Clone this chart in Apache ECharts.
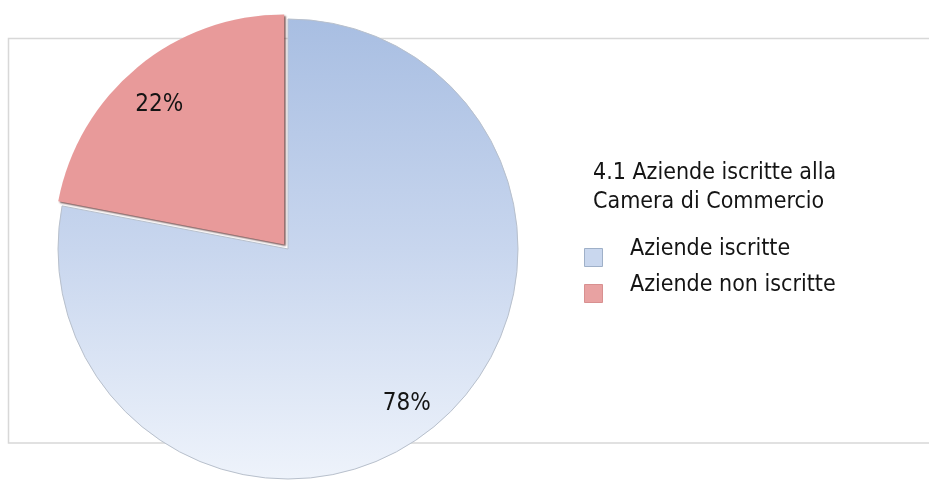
<!DOCTYPE html>
<html>
<head>
<meta charset="utf-8">
<style>
  html, body { margin: 0; padding: 0; background: #ffffff; }
  #chart { width: 929px; height: 483px; }
</style>
<script src="https://cdn.jsdelivr.net/npm/echarts@6/dist/echarts.min.js"></script>
</head>
<body>
<div id="chart"></div>
<script>
// Quota di aziende iscritte / non iscritte alla Camera di Commercio (%)
const categories = ['Aziende iscritte', 'Aziende non iscritte'];
const values = [78, 22];
const chartTitle = '4.1 Aziende iscritte alla\nCamera di Commercio';

const FONT = "'DejaVu Sans Condensed', 'Liberation Sans Narrow', 'Arial Narrow', sans-serif";
const TEXT_COLOR = '#141414';
const CENTER = [288, 249];
const RADIUS = 230;

const blueFill = {
  type: 'linear', x: 0, y: 0, x2: 0, y2: 1,
  colorStops: [
    { offset: 0, color: '#a8bee2' },
    { offset: 0.5, color: '#c8d6ee' },
    { offset: 1, color: '#eef3fb' }
  ]
};
const redFill = '#e89a9a';

const sliceStyles = [
  { color: blueFill, borderColor: '#b8c0cc', borderWidth: 1 },
  { color: redFill, borderWidth: 0,
    shadowColor: 'rgba(70,25,25,0.75)', shadowBlur: 2, shadowOffsetX: 1.5, shadowOffsetY: 1.5 }
];

const pieData = categories.map((name, i) => ({
  name: name,
  value: values[i],
  selected: i === 1,
  itemStyle: sliceStyles[i]
}));

// Transparent ring used only to place the percentage labels further out
const labelData = categories.map((name, i) => ({ name: name, value: values[i] }));

// Legend square drawn in the lower part of a taller icon box
const legendIcon = 'path://M0,0M0,16h18v18h-18z';

const chart = echarts.init(document.getElementById('chart'), null, { renderer: 'canvas' });
chart.setOption({
  backgroundColor: '#ffffff',
  animation: false,
  title: {
    text: chartTitle,
    left: 593,
    top: 159,
    padding: 0,
    textStyle: { fontFamily: FONT, fontSize: 23, fontWeight: 'normal', color: TEXT_COLOR, lineHeight: 29 }
  },
  legend: {
    orient: 'vertical',
    left: 584,
    top: 232,
    padding: 0,
    itemWidth: 19,
    itemHeight: 34,
    itemGap: 1,
    icon: legendIcon,
    data: [
      { name: categories[0], itemStyle: { color: '#c9d7ee', borderColor: '#9fb0c8', borderWidth: 1 } },
      { name: categories[1], itemStyle: { color: '#e8a2a2', borderColor: '#d89090', borderWidth: 1 } }
    ],
    textStyle: { fontFamily: FONT, fontSize: 23, color: TEXT_COLOR, padding: [0, 0, 0, 22] }
  },
  graphic: [{
    type: 'rect',
    z: -10,
    silent: true,
    shape: { x: 8.5, y: 38.5, width: 960, height: 404.5 },
    style: { fill: 'none', stroke: '#d8d8d8', lineWidth: 1.5 }
  }],
  series: [
    {
      type: 'pie',
      name: 'quota',
      center: CENTER,
      radius: RADIUS,
      startAngle: 90,
      clockwise: true,
      selectedMode: 'single',
      selectedOffset: 6,
      silent: true,
      label: { show: false },
      labelLine: { show: false },
      emphasis: { disabled: true },
      data: pieData
    },
    {
      type: 'pie',
      name: 'etichette',
      center: [283, 254],
      radius: [169, 213],
      startAngle: 90,
      clockwise: true,
      silent: true,
      legendHoverLink: false,
      z: 5,
      itemStyle: { color: 'rgba(0,0,0,0)', borderWidth: 0 },
      label: {
        show: true,
        position: 'inside',
        formatter: '{c}%',
        fontFamily: FONT,
        fontSize: 24,
        color: TEXT_COLOR
      },
      labelLine: { show: false },
      emphasis: { disabled: true },
      data: labelData
    }
  ]
});
</script>
</body>
</html>
